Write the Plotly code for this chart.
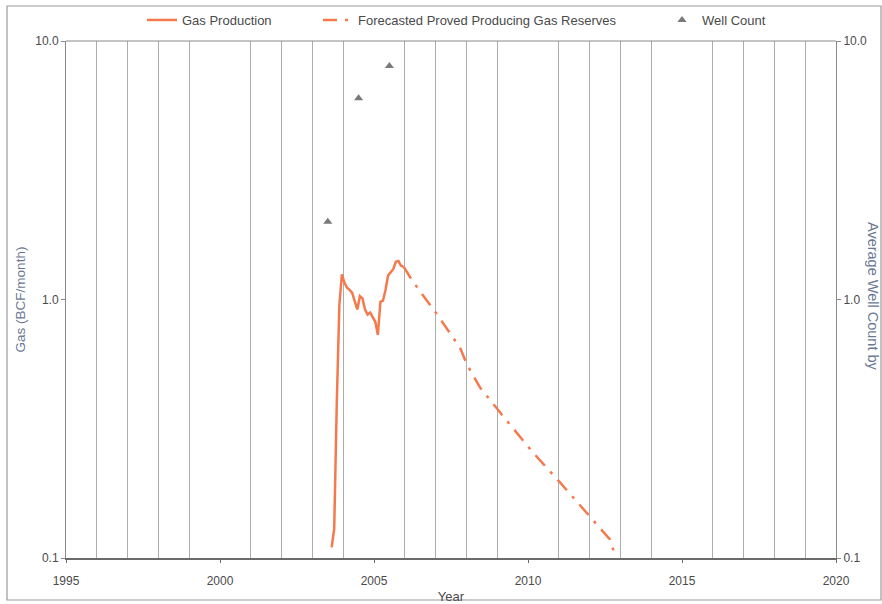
import plotly.graph_objects as go

# ---- data ----
prod_years = [2003.625, 2003.708, 2003.792, 2003.875, 2003.958, 2004.042, 2004.125, 2004.208,
              2004.292, 2004.375, 2004.458, 2004.542, 2004.625, 2004.708, 2004.792, 2004.875,
              2004.958, 2005.042, 2005.125, 2005.208, 2005.292, 2005.375, 2005.458, 2005.542,
              2005.625, 2005.708, 2005.792, 2005.875, 2005.958]
prod_gas = [0.11, 0.13, 0.40, 0.95, 1.25, 1.16, 1.11, 1.09,
            1.06, 0.98, 0.915, 1.03, 1.01, 0.915, 0.875, 0.89,
            0.85, 0.82, 0.73, 0.98, 0.99, 1.09, 1.24, 1.28,
            1.31, 1.40, 1.41, 1.35, 1.34]

fc_years = [2005.958, 2006.27, 2007.05, 2007.79, 2008.02, 2008.44, 2009.09, 2010.16,
            2011.04, 2012.01, 2012.44, 2012.66, 2012.82, 2012.86]
fc_gas = [1.34, 1.17, 0.875, 0.652, 0.56, 0.457, 0.366, 0.256,
          0.196, 0.145, 0.127, 0.118, 0.103, 0.1]

well_years = [2003.5, 2004.5, 2005.5]
well_count = [2, 6, 8]

log_ticks = [0.1, 1, 10]
log_tick_text = ["0.1", "1.0", "10.0"]

ORANGE = "#F47A4E"
GRID = "#acacac"
AXIS = "#8a8a8a"
TXT = "#4a4a4a"
TITLE = "#6b7894"
FONT = "Liberation Sans, Arial, sans-serif"

fig = go.Figure()
fig.add_trace(go.Scatter(x=prod_years, y=prod_gas, mode="lines", name="Gas Production",
                         line=dict(color=ORANGE, width=2.5), legend="legend"))
fig.add_trace(go.Scatter(x=fc_years, y=fc_gas, mode="lines",
                         name="Forecasted Proved Producing Gas Reserves",
                         line=dict(color=ORANGE, width=2.5, dash="14px,8px,3px,8px"),
                         legend="legend2"))
fig.add_trace(go.Scatter(x=well_years, y=well_count, mode="markers", name="Well Count",
                         marker=dict(symbol="triangle-up", color="#7a7a7a", size=8),
                         yaxis="y2", legend="legend3"))

W, H = 882, 604
L, R, T, B = 66, 46, 41, 46
PW, PH = W - L - R, H - T - B

legend_common = dict(orientation="h", yanchor="middle", xanchor="left",
                     bgcolor="rgba(0,0,0,0)", font=dict(family=FONT, size=13, color=TXT),
                     itemwidth=30)
LEG_Y = 1 + (T - 20) / PH

fig.update_layout(
    width=W, height=H,
    margin=dict(l=L, r=R, t=T, b=B, autoexpand=False),
    paper_bgcolor="white", plot_bgcolor="white",
    font=dict(family=FONT, size=12, color=TXT),
    showlegend=True,
    legend=dict(**legend_common, x=(142 - L) / PW, y=LEG_Y),
    legend2=dict(**legend_common, x=(318 - L) / PW, y=LEG_Y),
    legend3=dict(**legend_common, x=(662 - L) / PW, y=LEG_Y),
    xaxis=dict(range=[1995, 2020], dtick=5, tick0=1995, showgrid=False, zeroline=False,
               showline=True, linecolor="#6a6a6a", linewidth=1.5, mirror=False,
               ticks="outside", ticklen=3, tickcolor="#6a6a6a",
               ticklabelstandoff=8,
               tickfont=dict(family=FONT, size=12, color=TXT),
               minor=dict(dtick=1, showgrid=True, gridcolor=GRID, gridwidth=1, ticks=""),
               title=dict(text="Year", font=dict(family=FONT, size=13, color=TXT), standoff=6)),
    yaxis=dict(type="log", range=[-1, 1], tickvals=log_ticks, ticktext=log_tick_text,
               showgrid=False, zeroline=False, showline=True, linecolor=AXIS, linewidth=1,
               ticks="outside", ticklen=4, tickcolor=AXIS,
               tickfont=dict(family=FONT, size=12, color=TXT),
               title=dict(text="Gas (BCF/month)", font=dict(family=FONT, size=13.5, color=TITLE),
                          standoff=6)),
    yaxis2=dict(type="log", range=[-1, 1], tickvals=log_ticks, ticktext=log_tick_text,
                overlaying="y", side="right", showgrid=False, zeroline=False,
                showline=True, linecolor=AXIS, linewidth=1,
                ticks="outside", ticklen=4, tickcolor=AXIS,
                tickfont=dict(family=FONT, size=12, color=TXT)),
    shapes=[
        # top border of plot area
        dict(type="line", xref="paper", yref="paper", x0=0, x1=1, y0=1, y1=1,
             line=dict(color=AXIS, width=1)),
        # outer frame of the chart
        dict(type="rect", xref="paper", yref="paper",
             x0=(7 - L) / PW, x1=(881 - L) / PW,
             y0=-(600 - (H - B)) / PH, y1=1 + (T - 6) / PH,
             line=dict(color="#9a9a9a", width=1.2), layer="below"),
    ],
    annotations=[
        dict(text="Average Well Count by", textangle=90, xref="paper", yref="paper",
             x=(873 - L) / PW, y=(H - B - 296) / PH,
             xanchor="center", yanchor="middle", showarrow=False,
             font=dict(family=FONT, size=14.5, color=TITLE)),
    ],
)

fig.write_html("out.html")
